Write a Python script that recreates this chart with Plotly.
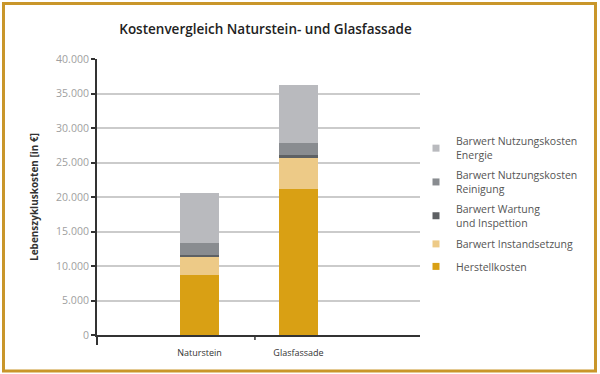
import plotly.graph_objects as go

categories = ["Naturstein", "Glasfassade"]
series_names = [
    "Herstellkosten",
    "Barwert Instandsetzung",
    "Barwert Wartung<br>und Inspettion",
    "Barwert Nutzungskosten<br>Reinigung",
    "Barwert Nutzungskosten<br>Energie",
]
herstellkosten = [8700, 21100]
instandsetzung = [2550, 4600]
wartung = [300, 400]
reinigung = [1750, 1700]
energie = [7300, 8500]
values = [herstellkosten, instandsetzung, wartung, reinigung, energie]
colors = ["#D9A014", "#EDCA87", "#5E6164", "#898C90", "#B9BABE"]
y_ticks = [0, 5000, 10000, 15000, 20000, 25000, 30000, 35000, 40000]
y_ticklabels = ["0", "5.000", "10.000", "15.000", "20.000", "25.000", "30.000", "35.000", "40.000"]

fig = go.Figure()
for name, vals, col in zip(series_names, values, colors):
    fig.add_trace(go.Bar(
        x=[0, 1], y=vals, name=name, marker=dict(color=col, line=dict(width=0)),
        width=0.40, showlegend=False,
    ))
# legend entries, top to bottom (reverse of stacking order)
for i, (name, col) in enumerate(zip(series_names[::-1], colors[::-1])):
    fig.add_trace(go.Scatter(
        x=[None], y=[None], mode="markers", name=name, legendgroup=f"g{i}",
        marker=dict(symbol="square", size=7, color=col),
    ))

L, R, T, B = 97, 180, 59, 39
W, H = 600, 374
pw, ph = W - L - R, H - T - B

def px(x):
    return (x - L) / pw

def py(y):
    return (H - B - y) / ph

fig.update_layout(
    width=W, height=H,
    margin=dict(l=L, r=R, t=T, b=B),
    barmode="stack",
    plot_bgcolor="white", paper_bgcolor="white",
    font=dict(family="Open Sans", color="#444"),
    title=dict(text="Kostenvergleich Naturstein- und Glasfassade", x=265.5 / W, xanchor="center",
               xref="container", y=1 - 29 / H, yanchor="middle",
               font=dict(size=13.5, color="#222", family="Open Sans", weight=600)),
    xaxis=dict(
        range=[-1.035, 2.227], tickvals=[0, 1], ticktext=categories,
        showgrid=False, zeroline=False, showline=True, linecolor="#333", linewidth=1.5,
        ticks="", tickfont=dict(size=9, color="#333"), fixedrange=True,
        ticklabelstandoff=8,
    ),
    yaxis=dict(
        range=[0, 40000], tickvals=y_ticks, ticktext=y_ticklabels,
        showgrid=True, gridcolor="#CBCBCB", gridwidth=1.5, zeroline=False,
        showline=True, linecolor="#333", linewidth=2, ticks="outside", ticklen=4,
        tickcolor="#333", tickwidth=1.5,
        tickfont=dict(size=10.5, color="#A0A0A0"),
        title=dict(text="Lebenszykluskosten [in €]", font=dict(size=10, color="#333", weight=700), standoff=16),
    ),
    legend=dict(
        traceorder="grouped", x=px(416), xanchor="left", y=py(128), yanchor="top",
        font=dict(size=10.5, color="#555"), itemwidth=30, tracegroupgap=3.5,
        bgcolor="rgba(0,0,0,0)",
    ),
    bargap=0,
)

# category separator tick below the x axis
fig.add_shape(type="line", xref="x", yref="paper", x0=0.56, x1=0.56, y0=0, y1=-5 / ph,
              line=dict(color="#333", width=1.5))
# y axis line extension below zero
fig.add_shape(type="line", xref="paper", yref="paper", x0=0, x1=0, y0=0, y1=-10 / ph,
              line=dict(color="#333", width=2))

fig.add_shape(type="rect", xref="paper", yref="paper",
              x0=px(3.5), x1=px(595.5), y0=py(371), y1=py(3.5),
              line=dict(color="#C9962A", width=3), layer="above")

fig.write_html("out.html", config={"displayModeBar": False},
               post_script="document.body.style.margin='0';document.body.style.overflow='hidden';")
